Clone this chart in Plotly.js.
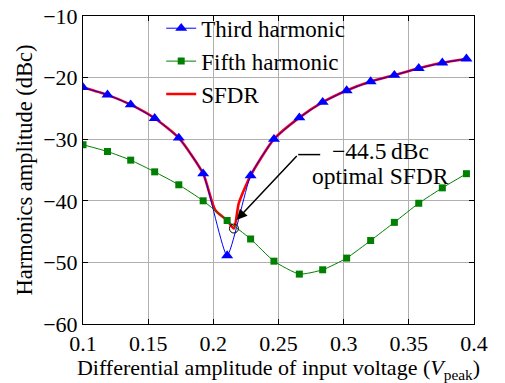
<!DOCTYPE html>
<html><head><meta charset="utf-8">
<script src="https://cdn.plot.ly/plotly-3.0.1.min.js"></script>
<style>html,body{margin:0;padding:0;background:#fff}#chart{width:505px;height:383px}</style>
</head><body><div id="chart"></div>
<script>
const xVals = [0.1,0.1188,0.1366,0.155,0.1735,0.1922,0.2106,0.2286,0.2465,0.266,0.2839,0.3023,0.3207,0.3389,0.3576,0.3757,0.3942];
const thirdHarmonic = [-21.6,-22.8,-24.4,-26.6,-29.8,-35.6,-48.9,-35.9,-30.0,-26.5,-24.0,-22.1,-20.65,-19.6,-18.5,-17.6,-16.95];
const fifthHarmonic = [-30.9,-32.0,-33.4,-35.3,-37.4,-40.0,-43.2,-46.2,-49.8,-51.9,-51.2,-49.3,-46.45,-43.5,-40.4,-37.9,-35.6];
const sfdrX = [0.1,0.1188,0.1366,0.155,0.1735,0.1922,0.2014,0.2106,0.2158,0.2195,0.2286,0.2465,0.266,0.2839,0.3023,0.3207,0.3389,0.3576,0.3757,0.3942];
const sfdrY = [-21.6,-22.8,-24.4,-26.6,-29.8,-35.6,-41.5,-43.2,-44.5,-40.4,-35.9,-30.0,-26.5,-24.0,-22.1,-20.65,-19.6,-18.5,-17.6,-16.95];
const optimalX = 0.2158, optimalY = -44.5;
const xTicks = [0.1,0.15,0.2,0.25,0.3,0.35,0.4];
const yTicks = [-60,-50,-40,-30,-20,-10];

const FONT = "Liberation Serif";
const traces = [
  {x: sfdrX, y: sfdrY, name: 'SFDR', mode: 'lines', line: {color: '#ff0000', width: 2.6, shape: 'spline', smoothing: 0.6}, legendrank: 3},
  {x: xVals, y: thirdHarmonic, name: 'Third harmonic', mode: 'lines+markers', line: {color: '#0000ff', width: 1, shape: 'spline', smoothing: 0.5}, marker: {symbol: 'triangle-up', size: 10.5, color: '#0000ff'}, legendrank: 1},
  {x: xVals, y: fifthHarmonic, name: 'Fifth harmonic', mode: 'lines+markers', line: {color: '#008000', width: 1, shape: 'spline', smoothing: 0.5}, marker: {symbol: 'square', size: 7, color: '#008000'}, legendrank: 2}
];
const axisCommon = {showline: true, linecolor: '#000', linewidth: 1, mirror: 'ticks', ticks: 'inside', ticklen: 5, tickcolor: '#000', showgrid: true, gridcolor: '#b0b0b0', gridwidth: 1, zeroline: false, tickfont: {family: FONT, size: 22, color: '#000'}};
const layout = {
  width: 505, height: 383,
  margin: {l: 83, r: 31, t: 16, b: 59, autoexpand: false},
  paper_bgcolor: '#fff', plot_bgcolor: '#fff',
  font: {family: FONT, color: '#000'},
  showlegend: true,
  legend: {x: 0.2, y: 1.03, xanchor: 'left', yanchor: 'top', bgcolor: 'rgba(0,0,0,0)', borderwidth: 0, font: {family: FONT, size: 23, color: '#000'}, tracegroupgap: 0, itemwidth: 30},
  xaxis: Object.assign({}, axisCommon, {range: [0.1, 0.4], tickvals: xTicks, ticktext: xTicks.map(String), title: {text: 'Differential amplitude of input voltage (<i>V</i><sub>peak</sub>)', font: {family: FONT, size: 22}, standoff: 2}}),
  yaxis: Object.assign({}, axisCommon, {range: [-60, -10], tickvals: yTicks, title: {text: 'Harmonics amplitude (dBc)', font: {family: FONT, size: 22.5}, standoff: 4}}),
  shapes: [
    {type: 'circle', xref: 'x', yref: 'y', xsizemode: 'pixel', ysizemode: 'pixel', xanchor: optimalX, yanchor: optimalY, x0: -4.5, x1: 4.5, y0: -4.5, y1: 4.5, line: {color: '#000', width: 1}},
    {type: 'line', xref: 'x', yref: 'y', x0: 0.2651, x1: 0.282, y0: -32.5, y1: -32.5, line: {color: '#000', width: 1.5}}
  ],
  annotations: [
    {x: 0.2178, y: -43.1, xref: 'x', yref: 'y', ax: 0.2651, ay: -32.5, axref: 'x', ayref: 'y', text: '', showarrow: true, arrowhead: 2, arrowsize: 1.4, arrowwidth: 1.5, arrowcolor: '#000'},
    {x: 0.328, y: -31.87, xref: 'x', yref: 'y', text: '\u221244.5\u2009dBc', showarrow: false, font: {family: FONT, size: 23.5, color: '#000'}},
    {x: 0.328, y: -35.93, xref: 'x', yref: 'y', text: 'optimal SFDR', showarrow: false, font: {family: FONT, size: 23.5, color: '#000'}}
  ]
};
Plotly.newPlot('chart', traces, layout, {displayModeBar: false, staticPlot: true});
</script></body></html>
